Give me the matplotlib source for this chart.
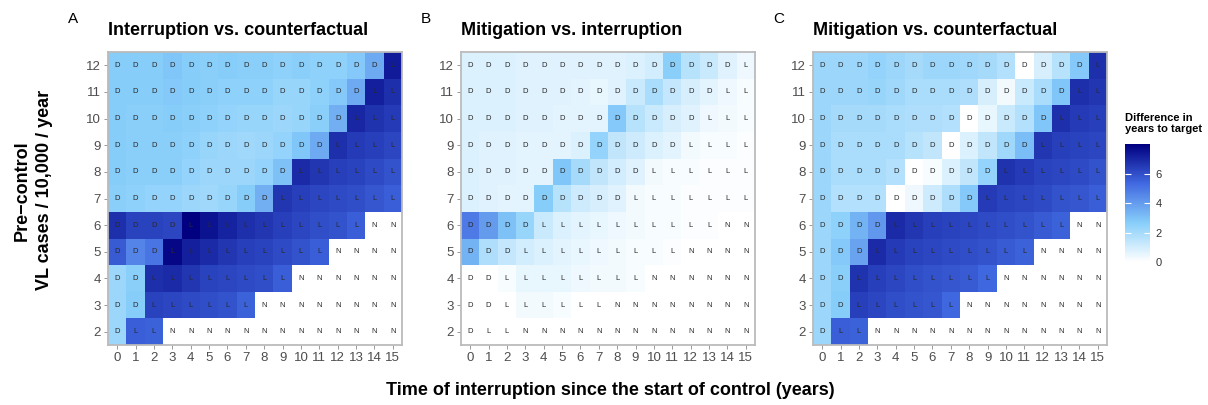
import numpy as np
import matplotlib.pyplot as plt
from matplotlib.colors import LinearSegmentedColormap

plt.rcParams['font.family'] = ['Liberation Sans', 'DejaVu Sans']

# interruption time (x) and pre-control incidence (y)
years = list(range(16))
incidence = [2, 3, 4, 5, 6, 7, 8, 9, 10, 11, 12]

# outcome letter for each cell, rows listed from incidence 2 up to 12
letters = [
    "DLLNNNNNNNNNNNNN",
    "DDLLLLLLNNNNNNNN",
    "DDLLLLLLLLNNNNNN",
    "DDDLLLLLLLLLNNNN",
    "DDDDLLLLLLLLLLNN",
    "DDDDDDDDDLLLLLLL",
    "DDDDDDDDDDLLLLLL",
    "DDDDDDDDDDDDLLLL",
    "DDDDDDDDDDDDDLLL",
    "DDDDDDDDDDDDDDLL",
    "DDDDDDDDDDDDDDDL",
]

# difference in years to target (nan = N, no value)
n = np.nan
interruption_vs_cf = [
    [2.2, 5.6, 5.5, n, n, n, n, n, n, n, n, n, n, n, n, n],
    [2.2, 2.7, 6.3, 6.2, 6.1, 6.0, 5.9, 5.5, n, n, n, n, n, n, n, n],
    [2.2, 2.6, 6.8, 6.9, 6.6, 6.3, 6.2, 6.1, 6.0, 5.6, n, n, n, n, n, n],
    [5.7, 4.6, 5.0, 7.8, 7.2, 6.9, 6.6, 6.4, 6.3, 6.1, 5.9, 5.6, n, n, n, n],
    [6.8, 6.3, 6.3, 6.2, 8.0, 7.5, 7.1, 6.8, 6.6, 6.4, 6.2, 6.0, 5.9, 5.6, n, n],
    [2.6, 2.5, 2.4, 2.4, 2.2, 2.1, 2.3, 2.7, 3.5, 6.6, 6.4, 6.2, 6.1, 6.0, 5.8, 5.6],
    [2.7, 2.6, 2.6, 2.6, 2.4, 2.2, 2.2, 2.2, 2.4, 3.0, 6.9, 6.6, 6.4, 6.3, 6.1, 5.9],
    [2.7, 2.6, 2.6, 2.6, 2.5, 2.3, 2.2, 2.1, 2.2, 2.4, 2.9, 3.6, 6.8, 6.5, 6.4, 6.2],
    [2.7, 2.6, 2.6, 2.7, 2.6, 2.5, 2.4, 2.3, 2.3, 2.2, 2.3, 2.6, 3.5, 7.0, 6.7, 6.5],
    [2.7, 2.7, 2.7, 2.8, 2.7, 2.6, 2.5, 2.5, 2.5, 2.3, 2.3, 2.5, 2.8, 3.6, 7.2, 6.8],
    [2.7, 2.7, 2.7, 2.9, 2.7, 2.6, 2.7, 2.6, 2.6, 2.5, 2.6, 2.5, 2.5, 2.8, 3.6, 7.3],
]

mitigation_vs_int = [
    [0.0, 0.0, 0.0, n, n, n, n, n, n, n, n, n, n, n, n, n],
    [0.0, 0.0, 0.0, 0.3, 0.3, 0.2, 0.0, 0.0, n, n, n, n, n, n, n, n],
    [0.0, 0.0, 0.2, 0.5, 0.5, 0.5, 0.4, 0.3, 0.3, 0.2, n, n, n, n, n, n],
    [3.4, 1.8, 1.3, 1.0, 0.8, 0.6, 0.5, 0.4, 0.3, 0.2, 0.2, 0.1, n, n, n, n],
    [4.9, 4.0, 3.0, 2.3, 1.2, 0.8, 0.6, 0.5, 0.4, 0.3, 0.2, 0.2, 0.1, 0.1, n, n],
    [0.8, 0.7, 0.6, 0.6, 2.7, 1.6, 1.1, 0.9, 0.7, 0.3, 0.2, 0.2, 0.1, 0.1, 0.1, 0.1],
    [0.8, 0.7, 0.7, 0.6, 0.6, 2.9, 2.0, 1.4, 1.0, 0.7, 0.3, 0.2, 0.2, 0.1, 0.1, 0.1],
    [0.8, 0.7, 0.7, 0.6, 0.6, 0.6, 0.8, 2.4, 1.4, 1.1, 0.8, 0.6, 0.3, 0.2, 0.2, 0.1],
    [0.8, 0.8, 0.8, 0.7, 0.7, 0.6, 0.6, 0.6, 2.8, 1.6, 1.2, 0.9, 0.7, 0.4, 0.3, 0.2],
    [0.8, 0.8, 0.8, 0.7, 0.7, 0.7, 0.6, 0.5, 0.7, 1.2, 1.9, 1.3, 0.9, 0.6, 0.4, 0.2],
    [0.8, 0.8, 0.8, 0.7, 0.7, 0.7, 0.7, 0.7, 0.7, 0.8, 1.0, 2.6, 1.6, 1.2, 0.7, 0.4],
]

mitigation_vs_cf = [
    [2.2, 5.6, 5.5, n, n, n, n, n, n, n, n, n, n, n, n, n],
    [2.2, 2.7, 6.4, 6.2, 6.0, 5.9, 5.8, 5.4, n, n, n, n, n, n, n, n],
    [2.2, 2.6, 6.7, 6.4, 6.2, 6.0, 5.9, 5.8, 5.7, 5.4, n, n, n, n, n, n],
    [2.2, 2.8, 3.8, 6.9, 6.5, 6.3, 6.2, 6.1, 6.0, 5.9, 5.7, 5.5, n, n, n, n],
    [2.2, 2.5, 3.4, 4.1, 6.9, 6.6, 6.4, 6.3, 6.2, 6.1, 6.0, 5.9, 5.7, 5.5, n, n],
    [2.2, 1.7, 1.7, 1.7, 0.0, 0.4, 1.1, 1.8, 2.8, 6.5, 6.3, 6.2, 6.1, 5.9, 5.8, 5.6],
    [2.2, 1.9, 1.9, 1.9, 1.7, 0.0, 0.2, 0.8, 1.4, 2.4, 6.7, 6.5, 6.3, 6.2, 6.1, 5.9],
    [2.2, 1.9, 1.9, 1.9, 1.9, 1.6, 1.4, 0.0, 0.8, 1.4, 2.1, 3.1, 6.6, 6.4, 6.3, 6.2],
    [2.2, 2.0, 2.0, 2.0, 1.9, 1.8, 1.8, 1.7, 0.0, 0.5, 1.2, 1.7, 2.9, 6.8, 6.5, 6.4],
    [2.2, 2.2, 2.2, 2.3, 2.1, 1.9, 1.9, 1.9, 1.8, 0.9, 0.3, 1.2, 1.9, 2.9, 6.8, 6.6],
    [2.2, 2.2, 2.2, 2.4, 2.2, 2.0, 2.2, 2.2, 2.1, 2.0, 1.7, 0.0, 0.9, 1.6, 2.8, 6.8],
]

panels = [
    ("A", "Interruption vs. counterfactual", interruption_vs_cf),
    ("B", "Mitigation vs. interruption", mitigation_vs_int),
    ("C", "Mitigation vs. counterfactual", mitigation_vs_cf),
]

cmap = LinearSegmentedColormap.from_list(
    "diff", ["white", "lightskyblue", "royalblue", "navy"])
vmax = 8.0

fig = plt.figure(figsize=(12.08, 4.05), dpi=100)
lefts = [0.0894, 0.3816, 0.673]
W, B, H = 0.2434, 0.148, 0.7235

for left, (tag, title, vals) in zip(lefts, panels):
    ax = fig.add_axes([left, B, W, H])
    data = np.ma.masked_invalid(np.array(vals, dtype=float))
    im = ax.pcolormesh(np.arange(-0.5, 16, 1), np.arange(1.5, 13, 1), data,
                       cmap=cmap, vmin=0, vmax=vmax, shading='flat')
    for r, y in enumerate(incidence):
        for c, x in enumerate(years):
            ax.text(x, y, letters[r][c], ha='center', va='center',
                    fontsize=5.5, color='#2a2a2a')
    ax.set_xlim(-0.5, 15.5)
    ax.set_ylim(1.5, 12.5)
    ax.set_xticks(years)
    ax.set_yticks(incidence)
    ax.tick_params(colors='#888888', labelcolor='#4d4d4d', labelsize=9.5,
                   length=3, width=0.6, pad=2)
    for s in ax.spines.values():
        s.set_color('#bbbbbb')
        s.set_linewidth(1.3)
    ax.text(0.0, 1.045, title, transform=ax.transAxes, fontsize=13,
            fontweight='bold', ha='left', va='bottom')
    fig.text(left - 0.033, 0.952, tag, fontsize=11, ha='left', va='center')

cax = fig.add_axes([0.9313, 0.353, 0.0207, 0.291])
cb = fig.colorbar(im, cax=cax, ticks=[0, 2, 4, 6])
cb.outline.set_visible(False)
cax.yaxis.set_ticks_position('both')
cax.tick_params(direction='in', color='white', length=4, width=0.8,
                labelsize=8, labelcolor='#333333', pad=4)
fig.text(0.9313, 0.67, "Difference in\nyears to target", fontsize=8,
         fontweight='bold', ha='left', va='bottom', linespacing=1.1)

fig.text(0.505, 0.035, "Time of interruption since the start of control (years)",
         fontsize=13, fontweight='bold', ha='center', va='center')
fig.text(0.028, 0.53, "Pre\u2212control\nVL cases / 10,000 / year",
         fontsize=13, fontweight='bold', ha='center', va='center',
         rotation=90, linespacing=1.4)

fig.savefig("out.png", dpi=100)
